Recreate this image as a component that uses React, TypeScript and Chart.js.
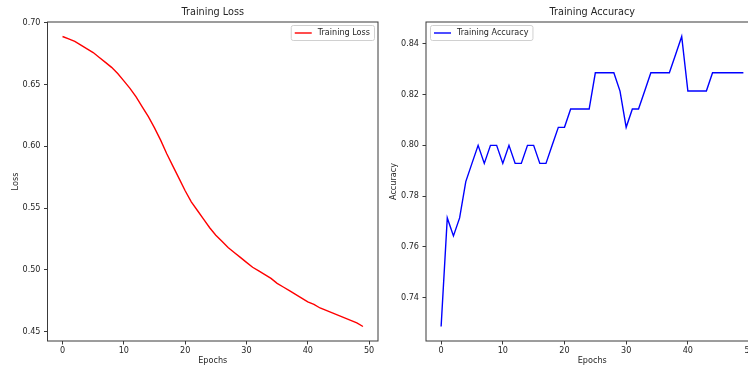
import { useEffect, useRef } from 'react';
import { Chart, registerables } from 'chart.js';

Chart.register(...registerables);

const epochs = [
  0, 1, 2, 3, 4, 5, 6, 7, 8, 9,
  10, 11, 12, 13, 14, 15, 16, 17, 18, 19,
  20, 21, 22, 23, 24, 25, 26, 27, 28, 29,
  30, 31, 32, 33, 34, 35, 36, 37, 38, 39,
  40, 41, 42, 43, 44, 45, 46, 47, 48, 49,
];

const lossValues = [
  0.689, 0.687, 0.685, 0.682, 0.679, 0.676, 0.672, 0.668, 0.664, 0.659,
  0.653, 0.647, 0.640, 0.632, 0.624, 0.615, 0.605, 0.594, 0.584, 0.574,
  0.564, 0.555, 0.548, 0.541, 0.534, 0.528, 0.523, 0.518, 0.514, 0.510,
  0.506, 0.502, 0.499, 0.496, 0.493, 0.489, 0.486, 0.483, 0.480, 0.477,
  0.474, 0.472, 0.469, 0.467, 0.465, 0.463, 0.461, 0.459, 0.457, 0.454,
];

const accuracyValues = [
  0.7286, 0.7714, 0.7643, 0.7714, 0.7857, 0.7929, 0.8000, 0.7929, 0.8000, 0.8000,
  0.7929, 0.8000, 0.7929, 0.7929, 0.8000, 0.8000, 0.7929, 0.7929, 0.8000, 0.8071,
  0.8071, 0.8143, 0.8143, 0.8143, 0.8143, 0.8286, 0.8286, 0.8286, 0.8286, 0.8214,
  0.8071, 0.8143, 0.8143, 0.8214, 0.8286, 0.8286, 0.8286, 0.8286, 0.8357, 0.8429,
  0.8214, 0.8214, 0.8214, 0.8214, 0.8286, 0.8286, 0.8286, 0.8286, 0.8286, 0.8286,
];

const epochTicks = [0, 10, 20, 30, 40, 50];
const lossTicks = [0.45, 0.5, 0.55, 0.6, 0.65, 0.7];
const accuracyTicks = [0.74, 0.76, 0.78, 0.8, 0.82, 0.84];

const FONT = 'DejaVu Sans';
const TEXT = '#262626';
const FRAME = '#3a3a3a';

function padded(values: number[]) {
  const lo = Math.min(...values);
  const hi = Math.max(...values);
  const m = (hi - lo) * 0.05;
  return { min: lo - m, max: hi + m };
}

type Cfg = {
  title: string;
  label: string;
  yLabel: string;
  values: number[];
  yTicks: number[];
  color: string;
  legendPos: 'left' | 'right';
  yWidth: number;
  yTitlePad: number;
  padRight: number;
};

function makeChart(canvas: HTMLCanvasElement, cfg: Cfg) {
  const xr = padded(epochs);
  const yr = padded(cfg.values);
  const tickFont = { family: FONT, size: 8.1 };

  const decor = {
    id: 'decor',
    afterDraw(chart: any) {
      const { ctx, chartArea: a } = chart;
      ctx.save();
      // frame
      ctx.strokeStyle = FRAME;
      ctx.lineWidth = 1;
      ctx.strokeRect(a.left, a.top, a.right - a.left, a.bottom - a.top);
      // title
      ctx.fillStyle = TEXT;
      ctx.font = `9.7px "${FONT}"`;
      ctx.textAlign = 'center';
      ctx.textBaseline = 'alphabetic';
      ctx.fillText(cfg.title, (a.left + a.right) / 2, 15.4);
      // legend
      ctx.font = `8.1px "${FONT}"`;
      const tw = ctx.measureText(cfg.label).width;
      const pad = 4, handle = 17, gap = 6;
      const w = pad + handle + gap + tw + pad;
      const h = 15;
      const x0 = cfg.legendPos === 'right' ? a.right - 4 - w : a.left + 4;
      const y0 = a.top + 3;
      ctx.beginPath();
      ctx.roundRect(x0 + 0.5, y0 + 0.5, w, h, 2);
      ctx.fillStyle = 'rgba(255,255,255,0.8)';
      ctx.fill();
      ctx.strokeStyle = '#d0d0d0';
      ctx.stroke();
      const cy = y0 + h / 2 + 0.5;
      ctx.beginPath();
      ctx.moveTo(x0 + pad, cy);
      ctx.lineTo(x0 + pad + handle, cy);
      ctx.strokeStyle = cfg.color;
      ctx.lineWidth = 1.4;
      ctx.stroke();
      ctx.fillStyle = TEXT;
      ctx.textAlign = 'left';
      ctx.textBaseline = 'middle';
      ctx.fillText(cfg.label, x0 + pad + handle + gap, cy);
      ctx.restore();
    },
  };

  return new Chart(canvas, {
    type: 'line',
    data: {
      datasets: [
        {
          label: cfg.label,
          data: epochs.map((e, i) => ({ x: e, y: cfg.values[i] })),
          borderColor: cfg.color,
          borderWidth: 1.4,
          pointRadius: 0,
          tension: 0,
          fill: false,
        },
      ],
    },
    options: {
      responsive: false,
      animation: false,
      layout: { padding: { top: 22, right: cfg.padRight, left: 0, bottom: 0 } },
      plugins: {
        legend: { display: false },
        title: { display: false },
        tooltip: { enabled: false },
      },
      scales: {
        x: {
          type: 'linear',
          min: xr.min,
          max: xr.max,
          afterBuildTicks: (s: any) => {
            s.ticks = epochTicks.map((v) => ({ value: v }));
          },
          afterFit: (s: any) => {
            s.height = 29;
          },
          ticks: {
            font: tickFont,
            color: TEXT,
            padding: 2,
            maxRotation: 0,
            autoSkip: false,
            callback: (v: any) => String(v),
          },
          grid: {
            display: true,
            drawOnChartArea: false,
            drawTicks: true,
            tickLength: 3.5,
            color: FRAME,
          },
          border: { display: false },
          title: {
            display: true,
            text: 'Epochs',
            font: tickFont,
            color: TEXT,
            padding: { top: 0, bottom: 4.3 },
          },
        },
        y: {
          type: 'linear',
          min: yr.min,
          max: yr.max,
          afterBuildTicks: (s: any) => {
            s.ticks = cfg.yTicks.map((v) => ({ value: v }));
          },
          afterFit: (s: any) => {
            s.width = cfg.yWidth;
          },
          ticks: {
            font: tickFont,
            color: TEXT,
            padding: 3.5,
            autoSkip: false,
            callback: (v: any) => Number(v).toFixed(2),
          },
          grid: {
            display: true,
            drawOnChartArea: false,
            drawTicks: true,
            tickLength: 3.5,
            color: FRAME,
          },
          border: { display: false },
          title: {
            display: true,
            text: cfg.yLabel,
            font: tickFont,
            color: TEXT,
            padding: { top: cfg.yTitlePad, bottom: 0 },
          },
        },
      },
    },
    plugins: [decor],
  } as any);
}

export default function App() {
  const leftRef = useRef<HTMLCanvasElement>(null);
  const rightRef = useRef<HTMLCanvasElement>(null);

  useEffect(() => {
    const c1 = makeChart(leftRef.current!, {
      title: 'Training Loss',
      label: 'Training Loss',
      yLabel: 'Loss',
      values: lossValues,
      yTicks: lossTicks,
      color: '#ff0000',
      legendPos: 'right',
      yWidth: 47.5,
      yTitlePad: 11,
      padRight: 8,
    });
    const c2 = makeChart(rightRef.current!, {
      title: 'Training Accuracy',
      label: 'Training Accuracy',
      yLabel: 'Accuracy',
      values: accuracyValues,
      yTicks: accuracyTicks,
      color: '#0000ff',
      legendPos: 'left',
      yWidth: 40,
      yTitlePad: 2.8,
      padRight: 12.5,
    });
    return () => {
      c1.destroy();
      c2.destroy();
    };
  }, []);

  return (
    <div
      style={{
        position: 'fixed',
        left: 0,
        top: 0,
        width: 748,
        height: 370,
        overflow: 'hidden',
        background: '#fff',
      }}
    >
      <canvas
        ref={leftRef}
        width={386}
        height={370}
        style={{ position: 'absolute', left: 0, top: 0, width: 386, height: 370 }}
      />
      <canvas
        ref={rightRef}
        width={385}
        height={370}
        style={{ position: 'absolute', left: 386, top: 0, width: 385, height: 370 }}
      />
    </div>
  );
}
